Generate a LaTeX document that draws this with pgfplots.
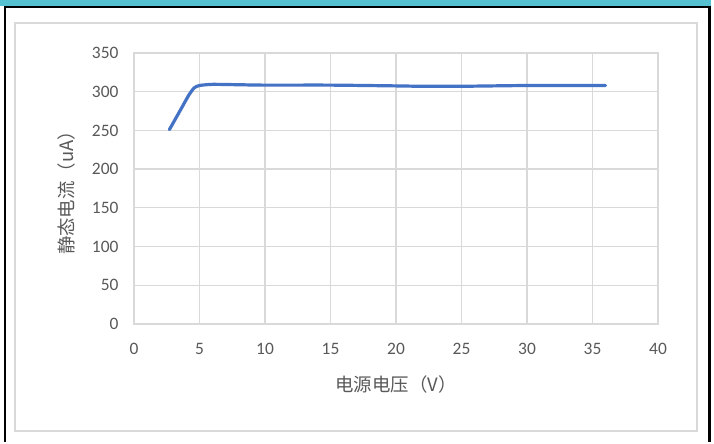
\documentclass[border=0pt]{standalone}
\usepackage{pgfplots}
\pgfplotsset{compat=1.18}
\usepackage{fontspec}
\setmainfont{Carlito}
\newfontfamily\cjk{Noto Sans CJK SC}
\definecolor{barteal}{HTML}{56C1D0}
\definecolor{gridgray}{HTML}{D9D9D9}
\definecolor{labelgray}{HTML}{595959}
\definecolor{lineblue}{HTML}{4472C4}

\pgfplotstableread{
v     i
2.7   251
3.5   275
4.2   296
4.6   305
5.0   308
6.0   309.5
8.0   309
10    308.5
15    308.5
20    307.5
22    307
25    307
30    308
36    308
}\quiescent

\begin{document}
\begin{tikzpicture}[x=1bp,y=1bp]
  % page background and frame
  \fill[white] (0,0) rectangle (714,442);
  \fill[barteal] (0,436) rectangle (711,442);
  \draw[black,line width=2bp] (4,435) -- (711,435);
  \draw[black,line width=2bp] (5,0) -- (5,436);
  \draw[black,line width=3bp] (709.5,0) -- (709.5,436);
  \draw[gridgray,line width=1.5bp] (15,11) rectangle (697,419);

  \begin{axis}[
    at={(134bp,118bp)}, anchor=south west,
    scale only axis, width=524bp, height=271bp,
    xmin=0, xmax=40, ymin=0, ymax=350,
    xtick={0,5,...,40}, ytick={0,50,...,350},
    grid=major,
    major grid style={gridgray, line width=1.3bp},
    axis line style={gridgray, line width=1.3bp},
    tick style={draw=none},
    /pgf/number format/assume math mode=true,
    ticklabel style={font=\fontsize{17.5}{20}\selectfont, text=labelgray},
    xticklabel style={yshift=-16bp},
    yticklabel style={xshift=-12bp},
    xlabel={\cjk 电源电压（V）},
    ylabel={\cjk 静态电流（uA）},
    label style={font=\fontsize{18.5}{22}\selectfont, text=labelgray},
    xlabel style={yshift=-14bp},
    ylabel style={yshift=10bp},
  ]
    \addplot[lineblue, line width=3.2bp, smooth, tension=0.4, line cap=round, line join=round]
      table[x=v, y=i] {\quiescent};
  \end{axis}
\end{tikzpicture}
\end{document}
